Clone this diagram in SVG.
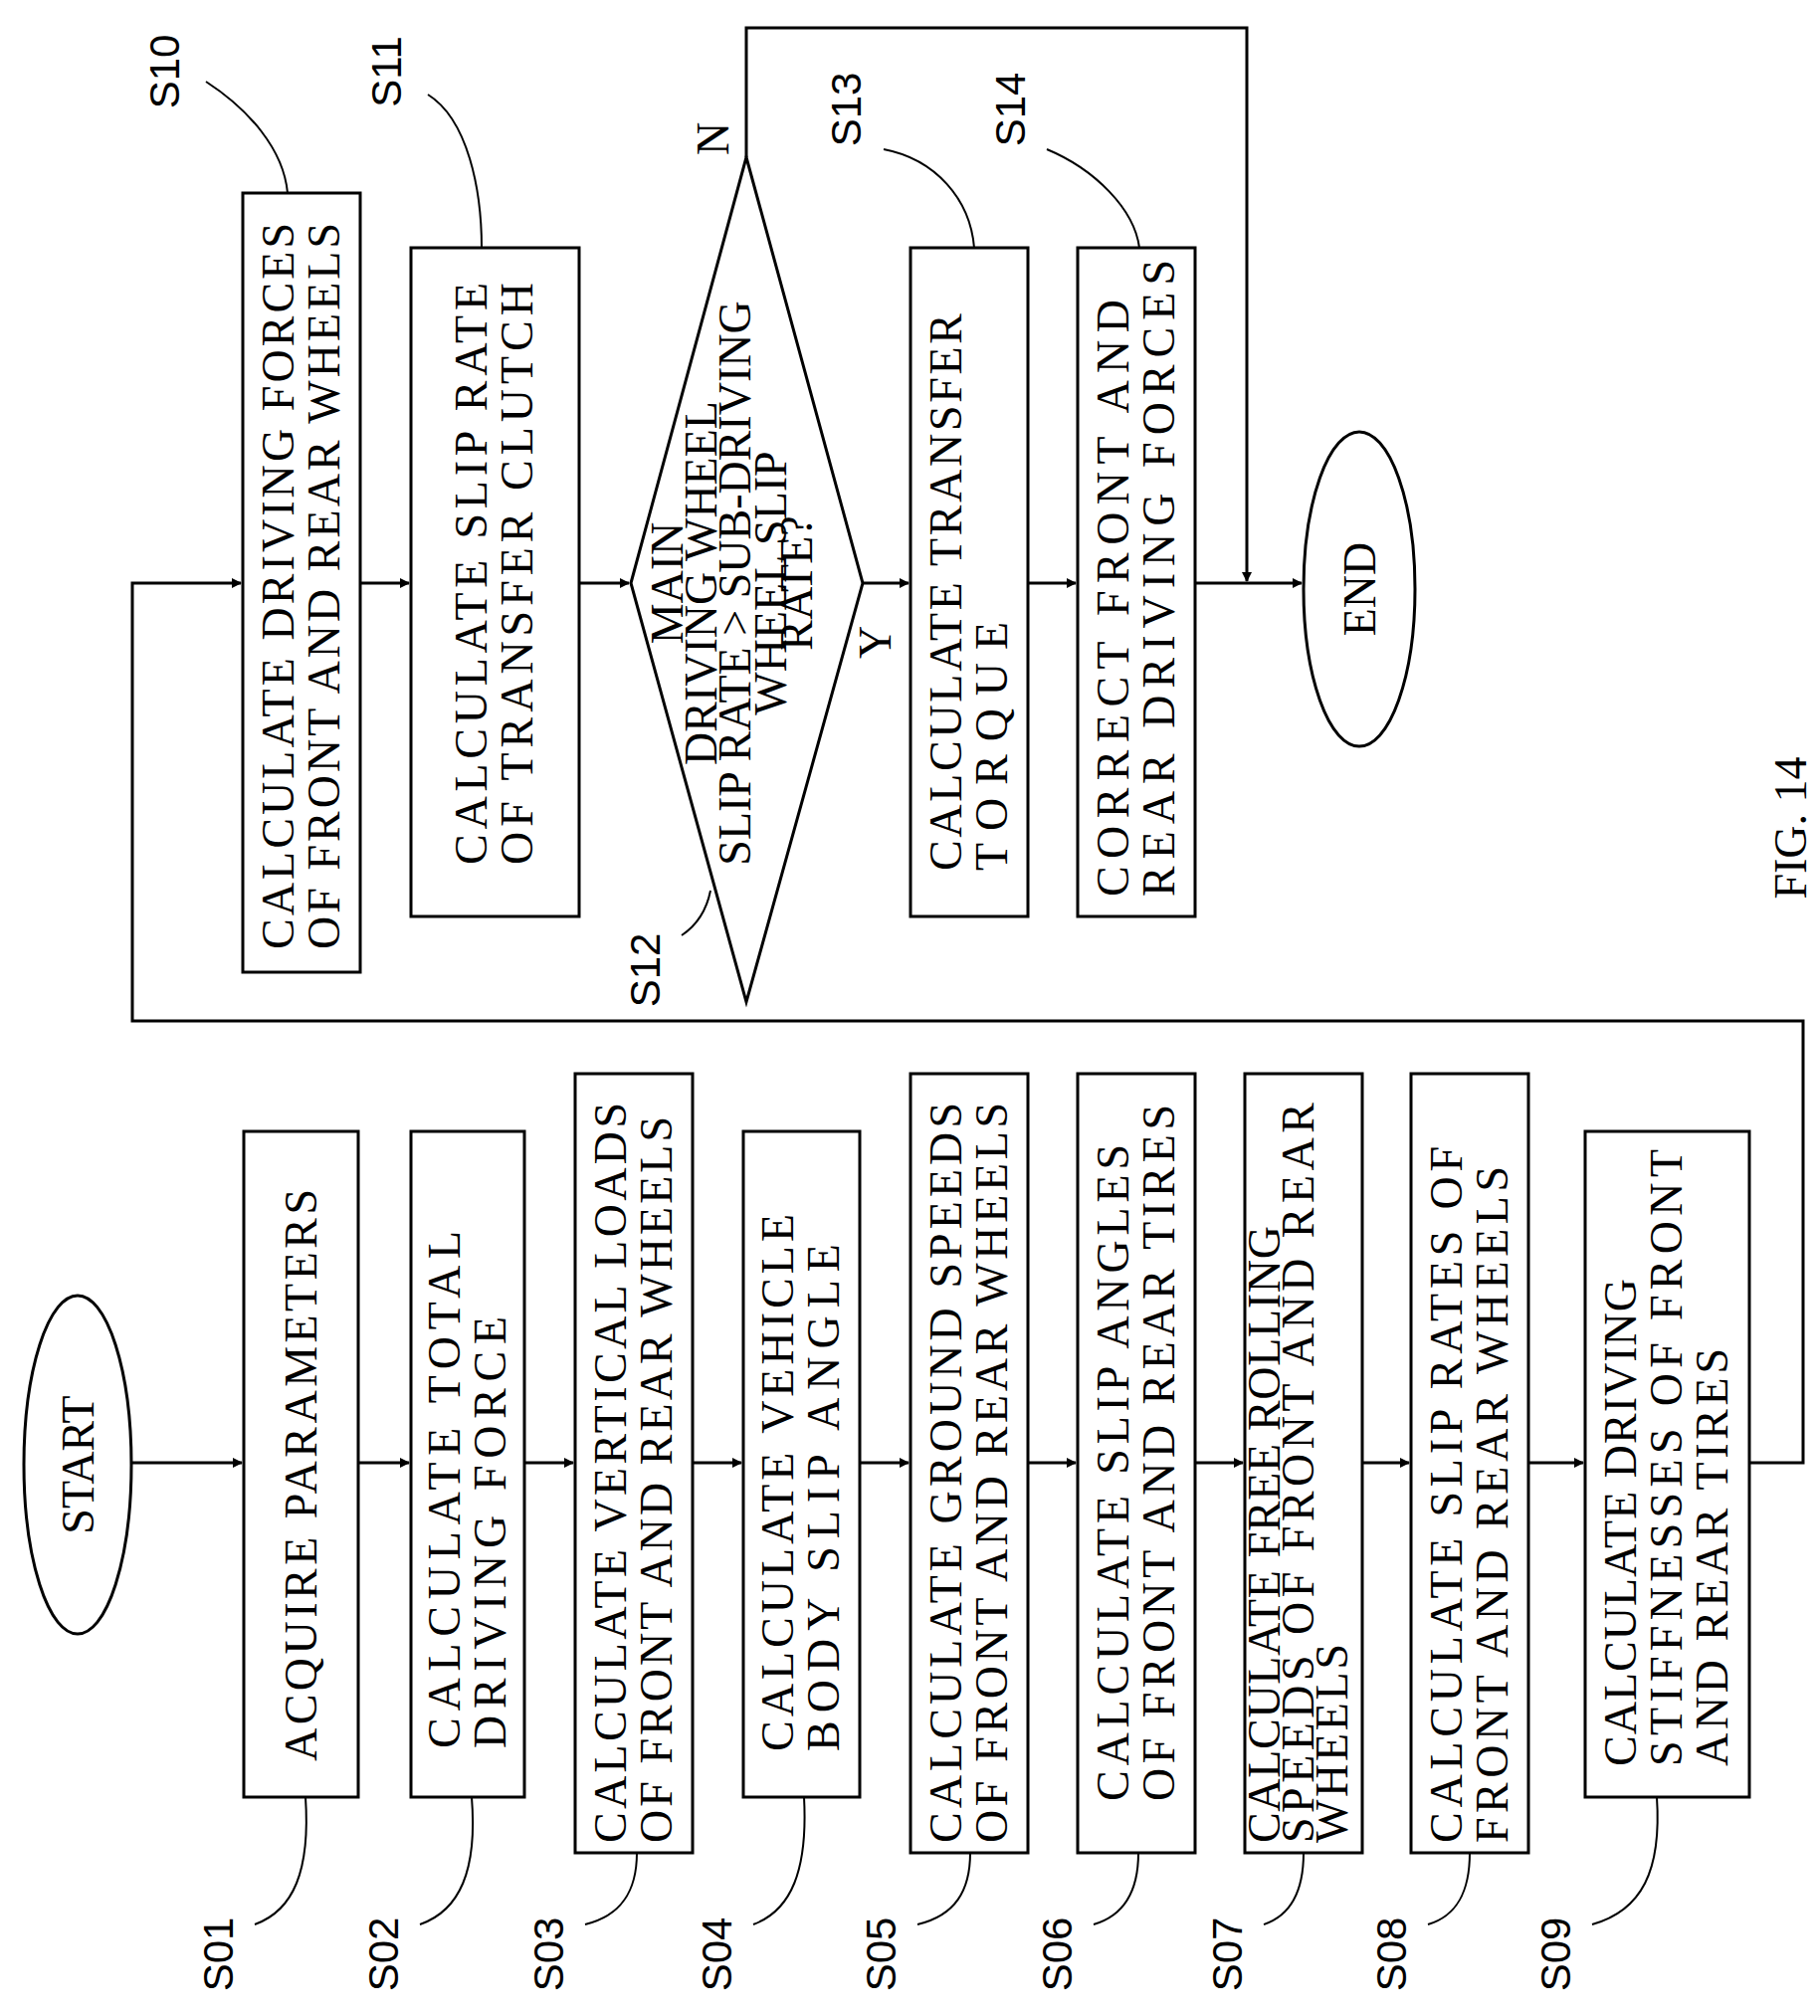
<svg xmlns="http://www.w3.org/2000/svg" width="1829" height="2026" viewBox="0 0 1829 2026">
<style>
.b{fill:#fff;stroke:#000;stroke-width:3}
.t{font-family:"Liberation Serif",serif;font-size:46px;fill:#000}
.l{font-family:"Liberation Sans",sans-serif;font-size:42px;fill:#000}
.c{fill:none;stroke:#000;stroke-width:3}
.ld{fill:none;stroke:#000;stroke-width:2}
</style>
<defs><marker id="a" markerWidth="10" markerHeight="10" refX="9" refY="5" orient="auto" markerUnits="userSpaceOnUse"><path d="M0,0 L10,5 L0,10 z" fill="#000"/></marker></defs>
<rect width="1829" height="2026" fill="#fff"/>
<g id="connectors">
<path class="c" d="M132,1470 H243" marker-end="url(#a)"/>
<path class="c" d="M360,1470 H411" marker-end="url(#a)"/>
<path class="c" d="M527,1470 H576" marker-end="url(#a)"/>
<path class="c" d="M696,1470 H745" marker-end="url(#a)"/>
<path class="c" d="M864,1470 H913" marker-end="url(#a)"/>
<path class="c" d="M1033,1470 H1081" marker-end="url(#a)"/>
<path class="c" d="M1201,1470 H1249" marker-end="url(#a)"/>
<path class="c" d="M1369,1470 H1416" marker-end="url(#a)"/>
<path class="c" d="M1536,1470 H1591" marker-end="url(#a)"/>
<path class="c" d="M1758,1470 H1812 V1026 H133 V586 H242" marker-end="url(#a)"/>
<path class="c" d="M362,586 H411" marker-end="url(#a)"/>
<path class="c" d="M582,586 H632" marker-end="url(#a)"/>
<path class="c" d="M867,586 H913" marker-end="url(#a)"/>
<path class="c" d="M1033,586 H1081" marker-end="url(#a)"/>
<path class="c" d="M1201,586 H1308" marker-end="url(#a)"/>
<path class="c" d="M750,158 V28 H1253 V584" marker-end="url(#a)"/>
<text class="t" x="705" y="153" font-size="38" transform="rotate(-90 720 141)">N</text>
<text class="t" x="868" y="665" font-size="38" transform="rotate(-90 880 650)">Y</text>
</g>
<g id="start"><ellipse class="b" cx="78" cy="1472" rx="54" ry="170"/><text class="t" text-anchor="middle" transform="translate(94,1472) rotate(-90)">START</text></g>
<g id="end"><ellipse class="b" cx="1366" cy="592" rx="56" ry="158"/><text class="t" text-anchor="middle" transform="translate(1382,592) rotate(-90)">END</text></g>
<g id="S01"><rect class="b" x="245" y="1137" width="115" height="669"/><text class="t" textLength="575" lengthAdjust="spacing" transform="translate(318,1770) rotate(-90)">ACQUIRE PARAMETERS</text></g>
<g id="S02"><rect class="b" x="413" y="1137" width="114" height="669"/><g class="t" transform="translate(470,1757) rotate(-90)"><text y="-8" textLength="520" lengthAdjust="spacing">CALCULATE TOTAL</text><text y="38" textLength="434" lengthAdjust="spacing">DRIVING FORCE</text></g></g>
<g id="S03"><rect class="b" x="578" y="1079" width="118" height="783"/><g class="t" transform="translate(637,1852) rotate(-90)"><text y="-8" textLength="744" lengthAdjust="spacing">CALCULATE VERTICAL LOADS</text><text y="38" textLength="730" lengthAdjust="spacing">OF FRONT AND REAR WHEELS</text></g></g>
<g id="S04"><rect class="b" x="747" y="1137" width="117" height="669"/><g class="t" transform="translate(805,1760) rotate(-90)"><text y="-8" textLength="540" lengthAdjust="spacing">CALCULATE VEHICLE</text><text y="38" textLength="510" lengthAdjust="spacing">BODY SLIP ANGLE</text></g></g>
<g id="S05"><rect class="b" x="915" y="1079" width="118" height="783"/><g class="t" transform="translate(974,1852) rotate(-90)"><text y="-8" textLength="744" lengthAdjust="spacing">CALCULATE GROUND SPEEDS</text><text y="38" textLength="744" lengthAdjust="spacing">OF FRONT AND REAR WHEELS</text></g></g>
<g id="S06"><rect class="b" x="1083" y="1079" width="118" height="783"/><g class="t" transform="translate(1142,1810) rotate(-90)"><text y="-8" textLength="660" lengthAdjust="spacing">CALCULATE SLIP ANGLES</text><text y="38" textLength="700" lengthAdjust="spacing">OF FRONT AND REAR TIRES</text></g></g>
<g id="S07"><rect class="b" x="1251" y="1079" width="118" height="783"/><g class="t" transform="translate(1310,1852) rotate(-90)" font-size="40"><text y="-24" textLength="620" lengthAdjust="spacing">CALCULATE FREE ROLLING</text><text y="10" textLength="744" lengthAdjust="spacing">SPEEDS OF FRONT AND REAR</text><text y="44" textLength="200" lengthAdjust="spacing">WHEELS</text></g></g>
<g id="S08"><rect class="b" x="1418" y="1079" width="118" height="783"/><g class="t" transform="translate(1477,1852) rotate(-90)"><text y="-8" textLength="700" lengthAdjust="spacing">CALCULATE SLIP RATES OF</text><text y="38" textLength="680" lengthAdjust="spacing">FRONT AND REAR WHEELS</text></g></g>
<g id="S09"><rect class="b" x="1593" y="1137" width="165" height="669"/><g class="t" transform="translate(1676,1775) rotate(-90)"><text y="-32" textLength="490" lengthAdjust="spacing">CALCULATE DRIVING</text><text y="14" textLength="620" lengthAdjust="spacing">STIFFNESSES OF FRONT</text><text y="60" textLength="420" lengthAdjust="spacing">AND REAR TIRES</text></g></g>
<g id="S10"><rect class="b" x="244" y="194" width="118" height="783"/><g class="t" transform="translate(303,954) rotate(-90)"><text y="-8" textLength="730" lengthAdjust="spacing">CALCULATE DRIVING FORCES</text><text y="38" textLength="730" lengthAdjust="spacing">OF FRONT AND REAR WHEELS</text></g></g>
<g id="S11"><rect class="b" x="413" y="249" width="169" height="672"/><g class="t" transform="translate(497,869) rotate(-90)"><text y="-8" textLength="585" lengthAdjust="spacing">CALCULATE SLIP RATE</text><text y="38" textLength="585" lengthAdjust="spacing">OF TRANSFER CLUTCH</text></g></g>
<g id="S12"><polygon class="b" points="634,586 750,158 867,586 750,1007"/><g class="t" text-anchor="middle" transform="translate(750,586) rotate(-90)" font-size="42"><text y="-64">MAIN</text><text y="-30">DRIVING WHEEL</text><text y="4">SLIP RATE &gt; SUB-DRIVING</text><text y="40">WHEEL SLIP</text><text y="66">RATE?</text></g></g>
<g id="S13"><rect class="b" x="915" y="249" width="118" height="672"/><g class="t" transform="translate(974,875) rotate(-90)"><text y="-8" textLength="560" lengthAdjust="spacing">CALCULATE TRANSFER</text><text y="38" textLength="250" lengthAdjust="spacing">TORQUE</text></g></g>
<g id="S14"><rect class="b" x="1083" y="249" width="118" height="672"/><g class="t" transform="translate(1142,901) rotate(-90)"><text y="-8" textLength="600" lengthAdjust="spacing">CORRECT FRONT AND</text><text y="38" textLength="640" lengthAdjust="spacing">REAR DRIVING FORCES</text></g></g>
<g id="labels">
<g class="l" text-anchor="middle">
<text transform="translate(234,1964) rotate(-90)">S01</text>
<text transform="translate(400,1964) rotate(-90)">S02</text>
<text transform="translate(566,1964) rotate(-90)">S03</text>
<text transform="translate(735,1964) rotate(-90)">S04</text>
<text transform="translate(900,1964) rotate(-90)">S05</text>
<text transform="translate(1077,1964) rotate(-90)">S06</text>
<text transform="translate(1248,1964) rotate(-90)">S07</text>
<text transform="translate(1413,1964) rotate(-90)">S08</text>
<text transform="translate(1578,1964) rotate(-90)">S09</text>
<text transform="translate(180,72) rotate(-90)">S10</text>
<text transform="translate(403,72) rotate(-90)">S11</text>
<text transform="translate(663,975) rotate(-90)">S12</text>
<text transform="translate(865,110) rotate(-90)">S13</text>
<text transform="translate(1030,110) rotate(-90)">S14</text>
</g>
<text class="t" text-anchor="middle" font-size="48" transform="translate(1815,832) rotate(-90)">FIG. 14</text>
<path class="ld" d="M307,1806 C312,1880 295,1920 256,1934"/>
<path class="ld" d="M474,1806 C480,1880 462,1920 422,1934"/>
<path class="ld" d="M640,1862 C640,1900 625,1925 588,1934"/>
<path class="ld" d="M808,1806 C812,1880 795,1920 757,1934"/>
<path class="ld" d="M975,1862 C975,1900 960,1925 922,1934"/>
<path class="ld" d="M1144,1862 C1144,1900 1130,1925 1099,1934"/>
<path class="ld" d="M1310,1862 C1310,1900 1297,1925 1270,1934"/>
<path class="ld" d="M1477,1862 C1477,1900 1465,1925 1435,1934"/>
<path class="ld" d="M1665,1806 C1670,1880 1650,1920 1600,1934"/>
<path class="ld" d="M207,82 C250,110 285,150 289,194"/>
<path class="ld" d="M430,95 C470,120 484,190 484,249"/>
<path class="ld" d="M685,940 C700,930 710,915 714,895"/>
<path class="ld" d="M888,150 C940,160 975,200 979,249"/>
<path class="ld" d="M1052,150 C1100,170 1140,210 1145,249"/>
</g>
</svg>
